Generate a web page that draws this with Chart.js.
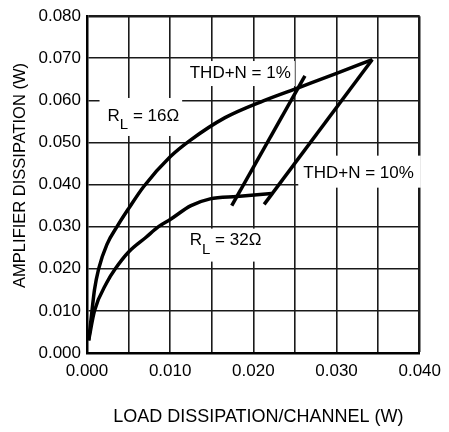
<!DOCTYPE html>
<html>
<head>
<meta charset="utf-8">
<script src="https://cdn.jsdelivr.net/npm/chart.js@4.4.1/dist/chart.umd.min.js"></script>
<style>
    html, body { margin: 0; padding: 0; background: #fff; }
</style>
</head>
<body>
<canvas id="dissChart" width="449" height="432"></canvas>
<script>
// --- Data ---
const load16 = [0.0002, 0.0006, 0.0009, 0.0014, 0.0024, 0.0037, 0.0050, 0.0068, 0.0100, 0.0124, 0.0166, 0.0212, 0.0254, 0.0300, 0.0343];
const amp16  = [0.0030, 0.0100, 0.0150, 0.0200, 0.0258, 0.0303, 0.0343, 0.0395, 0.0466, 0.0505, 0.0559, 0.0599, 0.0630, 0.0664, 0.0697];

const load32 = [0.0002, 0.0009, 0.0024, 0.0034, 0.0050, 0.0071, 0.0086, 0.0100, 0.0125, 0.0148, 0.0180, 0.0222];
const amp32  = [0.0030, 0.0100, 0.0168, 0.0200, 0.0240, 0.0275, 0.0300, 0.0317, 0.0350, 0.0366, 0.0372, 0.0379];

const loadThd1  = [0.0174, 0.0262];
const ampThd1   = [0.0350, 0.0658];
const loadThd10 = [0.0213, 0.0343];
const ampThd10  = [0.0353, 0.0697];

const xTicks = [0.000, 0.010, 0.020, 0.030, 0.040];
const yTicks = [0.000, 0.010, 0.020, 0.030, 0.040, 0.050, 0.060, 0.070, 0.080];

const FONT = '"Liberation Sans", Arial, Helvetica, sans-serif';

function toPoints(xs, ys) {
    return xs.map((x, i) => ({ x: x, y: ys[i] }));
}

function lineSet(xs, ys, smooth) {
    return {
        data: toPoints(xs, ys),
        showLine: true,
        borderColor: '#000',
        borderWidth: 3.5,
        pointRadius: 0,
        fill: false,
        cubicInterpolationMode: smooth ? 'monotone' : 'default',
        tension: 0
    };
}

// labels sitting on white patches that cut the grid
// box = padding left, top, right, bottom around the text
const curveLabels = [
    { parts: ['R', 'L', ' = 16\u03A9'], x: 0.00247, y: 0.0563, box: [8, 18, 3, 20] },
    { parts: ['R', 'L', ' = 32\u03A9'], x: 0.01235, y: 0.0267, box: [8, 12, 3, 21] },
    { parts: ['THD+N = 1%'], x: 0.01235, y: 0.0665, box: [7, 12, 4, 13] },
    { parts: ['THD+N = 10%'], x: 0.0260, y: 0.0426, box: [5, 18, 7, 14] }
];

const labelPlugin = {
    id: 'curveLabels',
    beforeDatasetsDraw(chart) {
        const ctx = chart.ctx;
        const xs = chart.scales.x, ys = chart.scales.y;
        const big = '17px ' + FONT;
        const small = '15px ' + FONT;
        ctx.save();
        ctx.textBaseline = 'middle';
        ctx.textAlign = 'left';
        curveLabels.forEach(lbl => {
            const px = xs.getPixelForValue(lbl.x);
            const py = ys.getPixelForValue(lbl.y);
            const isSub = (i) => lbl.parts.length === 3 && i === 1;
            let w = 0;
            lbl.parts.forEach((p, i) => {
                ctx.font = isSub(i) ? small : big;
                w += ctx.measureText(p).width;
            });
            const [l, t, r, b] = lbl.box;
            ctx.fillStyle = '#fff';
            ctx.fillRect(px - l, py - t, w + l + r, t + b);

            ctx.fillStyle = '#000';
            let cx = px;
            lbl.parts.forEach((p, i) => {
                ctx.font = isSub(i) ? small : big;
                ctx.fillText(p, cx, isSub(i) ? py + 9 : py);
                cx += ctx.measureText(p).width;
            });
        });
        ctx.restore();
    }
};

// first line sits under the axis border, last line closes the frame
const gridWidth = (ctx) => {
    if (ctx.index === 0) return 0;
    return ctx.index === ctx.scale.ticks.length - 1 ? 2.5 : 1.6;
};

new Chart(document.getElementById('dissChart'), {
    type: 'scatter',
    data: {
        datasets: [
            lineSet(load16, amp16, true),
            lineSet(load32, amp32, true),
            lineSet(loadThd1, ampThd1, false),
            lineSet(loadThd10, ampThd10, false)
        ]
    },
    options: {
        responsive: false,
        animation: false,
        devicePixelRatio: 1,
        layout: { padding: { top: 15, right: 22, left: 0, bottom: 0 } },
        plugins: {
            legend: { display: false },
            tooltip: { enabled: false }
        },
        scales: {
            x: {
                type: 'linear',
                min: 0,
                max: 0.04,
                afterFit: (scale) => { scale.height = 79; },
                afterBuildTicks: (scale) => {
                    scale.ticks = [];
                    for (let i = 0; i <= 8; i++) scale.ticks.push({ value: i * 0.005 });
                },
                ticks: {
                    autoSkip: false,
                    padding: 8,
                    color: '#000',
                    font: { family: FONT, size: 17 },
                    maxRotation: 0,
                    callback: (v) => {
                        const hit = xTicks.find(t => Math.abs(t - v) < 1e-6);
                        return hit === undefined ? '' : hit.toFixed(3);
                    }
                },
                grid: { color: '#1a1a1a', lineWidth: gridWidth, drawTicks: false },
                border: { color: '#000', width: 2.5 },
                title: {
                    display: true,
                    text: '  LOAD DISSIPATION/CHANNEL (W)',
                    color: '#000',
                    font: { family: FONT, size: 18 },
                    padding: { top: 0, bottom: 4 }
                }
            },
            y: {
                type: 'linear',
                min: 0,
                max: 0.08,
                afterFit: (scale) => { scale.width = 87; },
                afterBuildTicks: (scale) => {
                    scale.ticks = yTicks.map(v => ({ value: v }));
                },
                ticks: {
                    autoSkip: false,
                    padding: 6,
                    color: '#000',
                    font: { family: FONT, size: 17 },
                    callback: (v) => v.toFixed(3)
                },
                grid: { color: '#1a1a1a', lineWidth: gridWidth, drawTicks: false },
                border: { color: '#000', width: 2.5 },
                title: {
                    display: true,
                    text: '    AMPLIFIER DISSIPATION (W)',
                    color: '#000',
                    font: { family: FONT, size: 16.5 },
                    padding: { top: 11, bottom: 0 }
                }
            }
        }
    },
    plugins: [labelPlugin]
});
</script>
</body>
</html>
